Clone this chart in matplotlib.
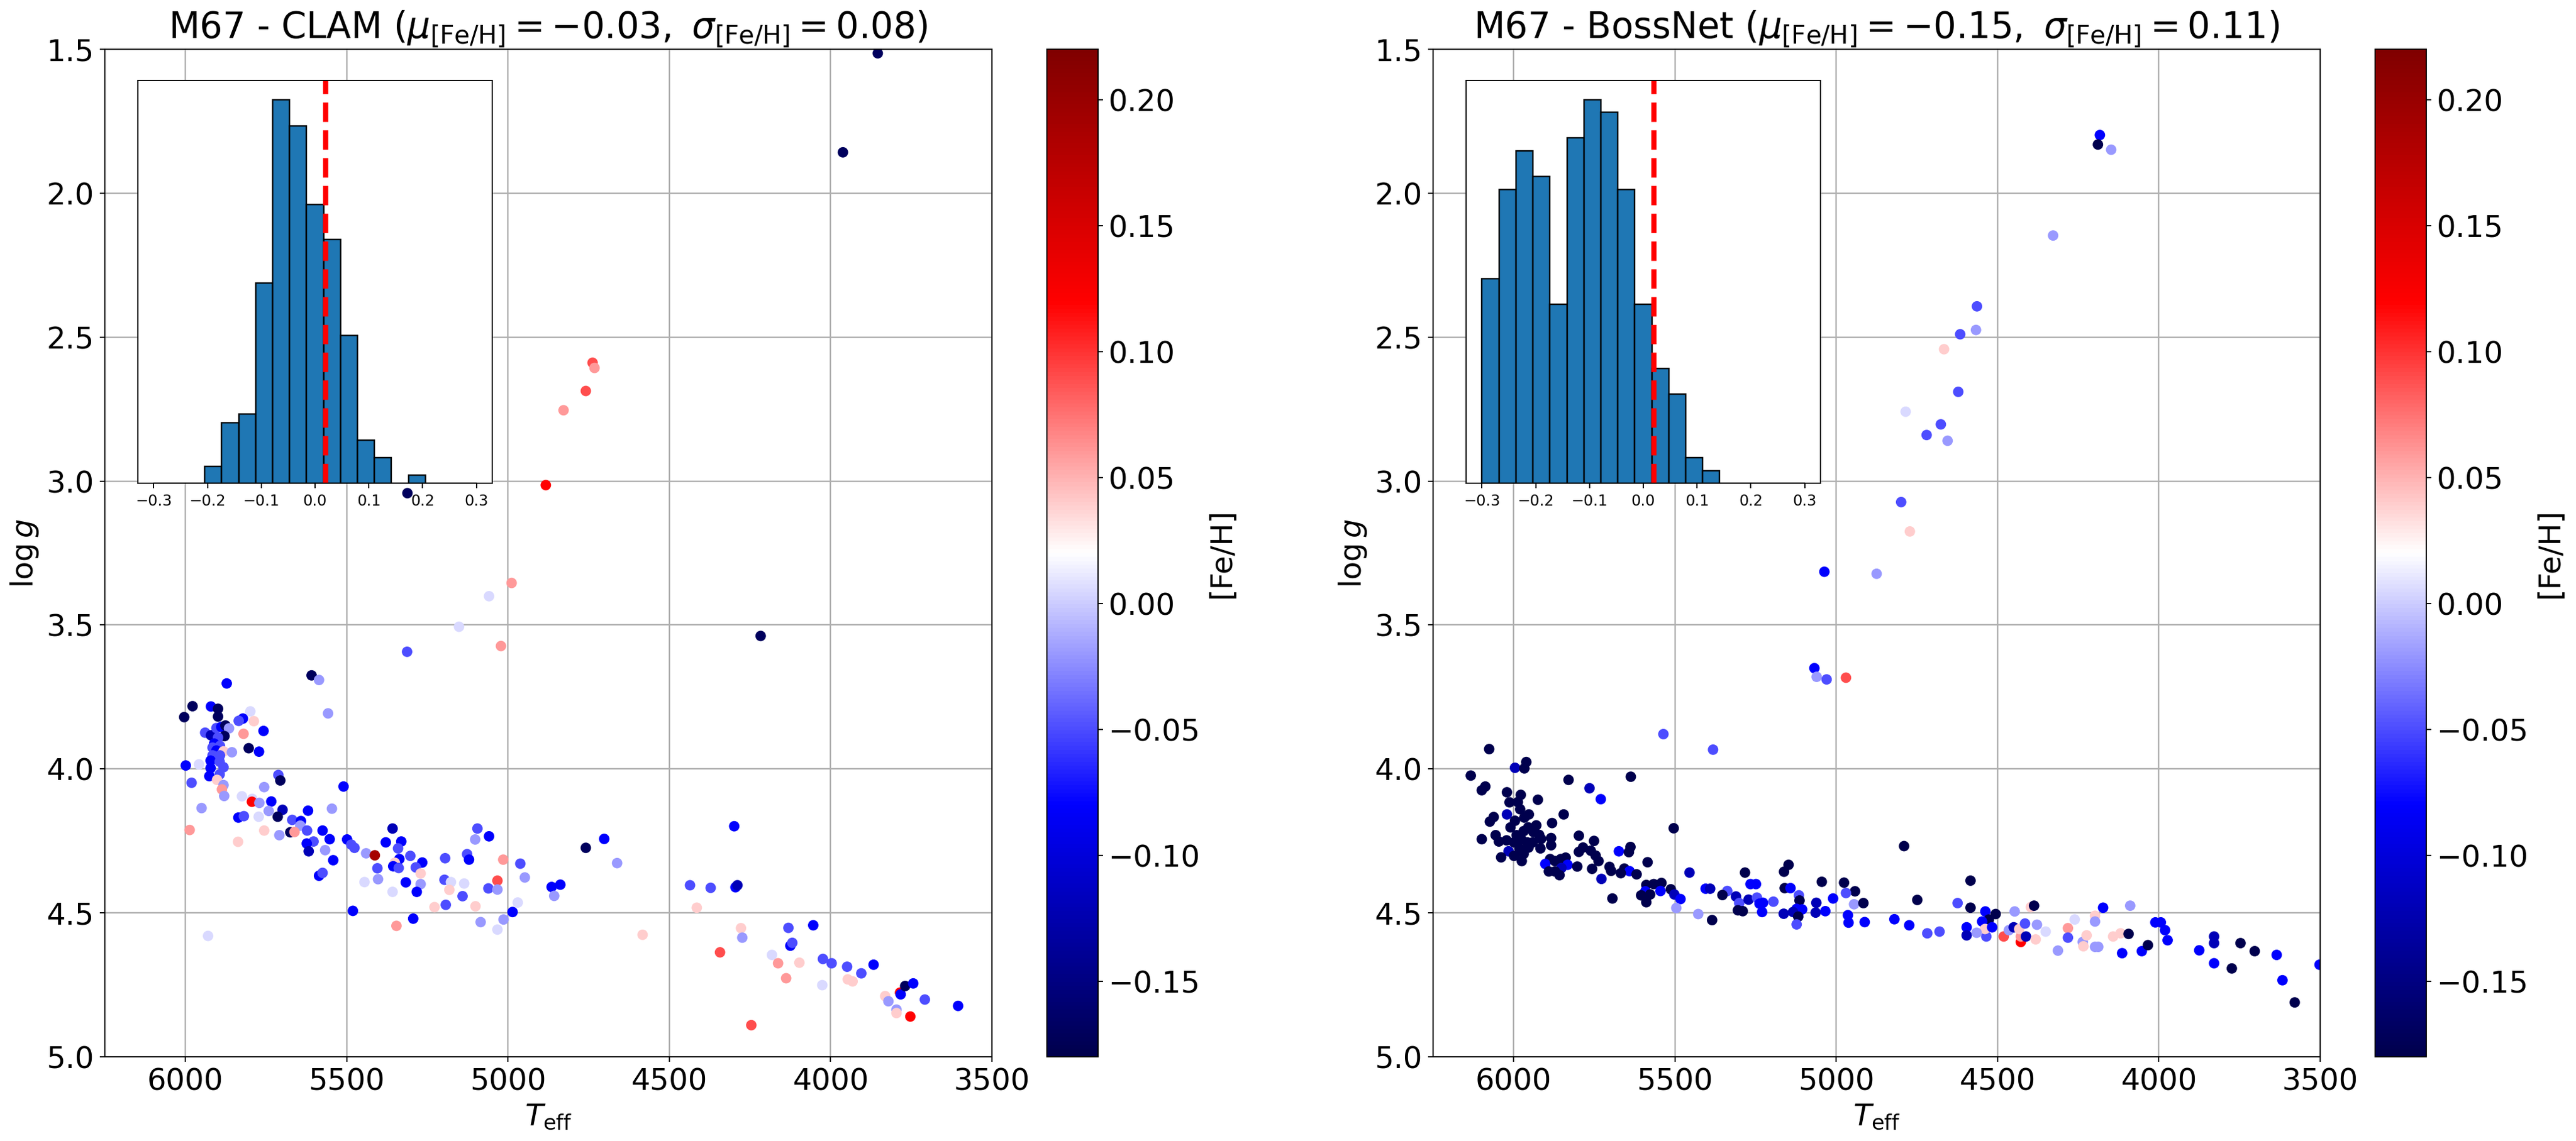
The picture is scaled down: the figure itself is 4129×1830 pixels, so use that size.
import numpy as np
import matplotlib
matplotlib.use('Agg')
import matplotlib.pyplot as plt

# ---------------- data ----------------
# CLAM panel
teff_clam_main = [5059,5152,5022,5313,5609,5586,5872,5558,5978,6004,
    5921,5899,5899,5799,5822,5835,5788,5758,5820,5939,
    5921,5904,5889,5876,5865,5879,5899,5911,5893,5916,
    5904,5882,5856,5804,5772,5916,5893,5922,5894,5882,
    5922,5999,5958,5926,5894,5981,5902,5882,5887,5880,
    5712,5706,5510,5756,5825,5793,5794,5771,5734,5950,
    5546,5699,5620,5742,5836,5819,5773,5714,5669,5642,
    5644,5987,5756,5675,5662,5623,5575,5709,5837,5553,
    5499,5603,5624,5486,5476,5567,5618,5542,5440,5413,
    5358,5379,5331,5341,5303,5337,5351,5356,5339,5266,
    5286,5271,5405,5403,5445,5586,5575,5317,5271,5283,
    5358,5195,5095,5102,5059,5127,5121,5015,4962,4948,
    5033,5197,5177,5136,5182,5061,5033,5141,5228,5193,
    5101,4970,5481,5294,5346,5085,5014,4986,5033,5930]
logg_clam_main = [3.400,3.506,3.573,3.593,3.675,3.691,3.703,3.807,3.782,3.820,
    3.783,3.791,3.818,3.800,3.825,3.833,3.834,3.868,3.878,3.874,
    3.883,3.858,3.854,3.849,3.859,3.886,3.891,3.912,3.920,3.926,
    3.936,3.939,3.942,3.928,3.940,3.953,3.953,3.971,3.975,3.994,
    3.997,3.988,3.984,4.025,4.019,4.048,4.038,4.056,4.071,4.094,
    4.021,4.040,4.061,4.063,4.095,4.104,4.114,4.118,4.113,4.136,
    4.138,4.142,4.145,4.146,4.169,4.164,4.166,4.166,4.177,4.181,
    4.197,4.212,4.214,4.220,4.219,4.214,4.214,4.230,4.253,4.244,
    4.245,4.252,4.259,4.263,4.274,4.282,4.286,4.317,4.293,4.300,
    4.207,4.255,4.252,4.276,4.302,4.313,4.326,4.338,4.344,4.325,
    4.342,4.363,4.345,4.383,4.393,4.371,4.361,4.394,4.400,4.427,
    4.427,4.310,4.207,4.245,4.234,4.296,4.315,4.315,4.329,4.377,
    4.388,4.385,4.393,4.398,4.420,4.415,4.419,4.442,4.480,4.472,
    4.477,4.464,4.493,4.520,4.545,4.532,4.523,4.497,4.558,4.580]
feh_clam_main = [0.005,0.005,0.06,-0.05,-0.17,-0.02,-0.08,-0.02,-0.17,-0.17,
    -0.08,-0.17,-0.17,0.005,-0.08,-0.05,0.04,-0.08,0.06,-0.05,
    -0.12,-0.05,-0.08,-0.17,-0.02,-0.17,-0.05,-0.08,-0.05,-0.05,
    -0.08,0.04,-0.02,-0.17,-0.08,-0.05,-0.05,-0.08,-0.05,-0.05,
    -0.08,-0.08,0.005,-0.08,-0.05,-0.05,0.04,-0.02,0.06,-0.02,
    -0.05,-0.17,-0.08,-0.02,0.005,0.005,0.12,-0.02,-0.08,-0.02,
    -0.02,-0.12,-0.08,-0.02,-0.08,-0.05,0.005,-0.17,-0.05,-0.08,
    -0.02,0.06,0.04,-0.17,0.06,-0.05,-0.08,-0.02,0.04,-0.08,
    -0.08,-0.05,-0.08,-0.05,-0.05,-0.02,-0.12,-0.08,-0.02,0.19,
    -0.12,-0.08,-0.08,-0.05,-0.05,-0.08,0.04,-0.08,-0.05,-0.08,
    -0.05,0.04,-0.05,-0.02,0.005,-0.08,-0.05,-0.08,-0.02,-0.08,
    0.005,-0.05,-0.05,-0.02,-0.08,-0.05,-0.08,0.06,-0.05,-0.02,
    0.09,-0.05,0.005,0.005,0.04,-0.05,-0.02,-0.05,0.04,-0.05,
    0.04,0.005,-0.08,-0.08,0.06,-0.02,-0.02,-0.08,0.005,0.005]

teff_clam_cool = [3854,3962,4738,4732,4759,4828,4883,5312,4989,4217,
    4299,4702,4759,4662,4865,4838,4857,4436,4372,4295,
    4289,4415,4583,4278,4274,4343,4246,4182,4163,4138,
    4097,4131,4125,4119,4054,4024,3997,3949,3947,3932,
    3905,3867,4026,3831,3821,3796,3796,3785,3783,3769,
    3744,3753,3708,3605]
logg_clam_cool = [1.514,1.858,2.589,2.607,2.687,2.754,3.014,3.042,3.354,3.538,
    4.199,4.243,4.274,4.327,4.410,4.402,4.441,4.404,4.413,4.411,
    4.404,4.482,4.576,4.553,4.586,4.637,4.890,4.646,4.675,4.727,
    4.673,4.552,4.614,4.604,4.543,4.660,4.675,4.687,4.731,4.738,
    4.710,4.680,4.751,4.789,4.807,4.836,4.848,4.777,4.783,4.754,
    4.745,4.860,4.801,4.823]
feh_clam_cool = [-0.17,-0.17,0.09,0.06,0.09,0.06,0.12,-0.17,0.06,-0.17,
    -0.08,-0.08,-0.17,-0.02,-0.08,-0.08,-0.02,-0.05,-0.05,-0.08,
    -0.12,0.04,0.04,0.04,-0.02,0.09,0.09,0.005,0.06,0.06,
    0.04,-0.05,-0.08,-0.05,-0.08,-0.05,-0.05,-0.05,0.04,0.04,
    -0.05,-0.08,0.005,0.04,-0.02,-0.02,0.04,0.12,-0.08,-0.17,
    -0.08,0.12,-0.05,-0.08]

# BossNet panel
teff_boss_main = [5068,5061,5030,5536,5382,6076,5996,5961,5967,6133,
    5637,5830,5765,5730,6088,6099,6021,5978,5925,6013,
    5987,5980,6021,5953,5967,5845,6062,6074,5996,5881,
    6010,5930,5955,5969,5939,5921,5991,6099,6056,6046,
    6022,5999,5976,5958,5941,5915,5884,5884,5917,5954,
    5982,6016,5969,5999,6039,5975,5798,5751,5798,5785,
    5761,5746,5737,5887,5902,5872,5854,5839,5833,5852,
    5891,5872,5858,5803,5757,5703,5698,5728,5674,5643,
    5638,5657,5641,5668,5619,5585,5694,5504,5589,5566,
    5542,5592,5605,5577,5589,5545,5513,5502,5483,5496,
    5455,5428,5385,5405,5391,5283,5338,5353,5311,5301,
    5305,5290,5266,5249,5272,5246,5227,5238,5195,5230,
    5148,5162,5160,5142,5116,5114,5123,5106,5134,5118,
    5123,5163,5045,5062,5064,5034]
logg_boss_main = [3.650,3.680,3.689,3.879,3.933,3.931,3.996,3.976,3.998,4.023,
    4.027,4.038,4.067,4.105,4.061,4.074,4.081,4.090,4.107,4.116,
    4.115,4.140,4.158,4.158,4.169,4.158,4.167,4.183,4.180,4.188,
    4.203,4.196,4.203,4.216,4.219,4.229,4.230,4.244,4.230,4.252,
    4.248,4.255,4.245,4.255,4.255,4.243,4.240,4.265,4.276,4.273,
    4.277,4.286,4.295,4.302,4.307,4.320,4.232,4.250,4.288,4.273,
    4.284,4.301,4.320,4.313,4.330,4.320,4.313,4.308,4.333,4.344,
    4.356,4.356,4.369,4.339,4.347,4.340,4.354,4.382,4.286,4.289,
    4.271,4.346,4.355,4.362,4.366,4.324,4.450,4.206,4.403,4.400,
    4.396,4.425,4.439,4.436,4.463,4.424,4.418,4.436,4.452,4.483,
    4.360,4.504,4.525,4.416,4.416,4.360,4.424,4.438,4.443,4.466,
    4.491,4.494,4.400,4.400,4.454,4.447,4.465,4.468,4.461,4.497,
    4.333,4.357,4.414,4.414,4.439,4.457,4.486,4.488,4.497,4.513,
    4.540,4.503,4.392,4.465,4.499,4.494]
feh_boss_main = [-0.08,-0.02,-0.05,-0.05,-0.05,-0.22,-0.12,-0.22,-0.22,-0.22,
    -0.22,-0.22,-0.12,-0.08,-0.22,-0.22,-0.22,-0.22,-0.22,-0.22,
    -0.22,-0.22,-0.12,-0.22,-0.22,-0.22,-0.22,-0.22,-0.22,-0.22,
    -0.22,-0.22,-0.22,-0.22,-0.22,-0.22,-0.22,-0.22,-0.22,-0.22,
    -0.22,-0.22,-0.22,-0.22,-0.22,-0.22,-0.22,-0.22,-0.22,-0.22,
    -0.22,-0.12,-0.22,-0.22,-0.22,-0.22,-0.22,-0.22,-0.22,-0.22,
    -0.22,-0.22,-0.22,-0.22,-0.08,-0.22,-0.22,-0.22,-0.08,-0.12,
    -0.22,-0.22,-0.22,-0.22,-0.22,-0.22,-0.22,-0.12,-0.08,-0.22,
    -0.22,-0.22,-0.08,-0.22,-0.22,-0.22,-0.22,-0.22,-0.22,-0.22,
    -0.22,-0.08,-0.22,-0.22,-0.22,-0.08,-0.22,-0.12,-0.08,-0.02,
    -0.12,-0.02,-0.22,-0.08,-0.12,-0.22,-0.05,-0.22,-0.12,-0.05,
    -0.22,-0.22,-0.08,-0.08,-0.12,-0.05,-0.08,-0.08,-0.05,-0.08,
    -0.22,-0.22,-0.22,-0.08,-0.05,-0.22,-0.08,-0.08,-0.12,-0.22,
    -0.05,-0.12,-0.22,-0.12,-0.12,-0.08]

teff_boss_giants = [4183,4189,4148,4328,4564,4567,4616,4666,4622,4785,
    4676,4720,4655,4799,4772]
logg_boss_giants = [1.798,1.831,1.849,2.147,2.393,2.475,2.490,2.542,2.690,2.759,
    2.803,2.840,2.860,3.073,3.175]
feh_boss_giants = [-0.08,-0.22,-0.02,-0.02,-0.05,-0.02,-0.05,0.04,-0.05,0.005,
    -0.05,-0.05,-0.02,-0.05,0.04]

teff_boss_cool = [5037,4875,4970,4790,4584,4624,4584,4538,4506,4447,
    4397,4387,4527,4548,4596,4596,4535,4539,4517,4565,
    4481,4465,4450,4428,4428,4433,4412,4415,4378,4382,
    4351,4718,4680,4774,4820,4749,4313,4282,4282,4236,
    4234,4224,4261,4198,4198,4173,4198,4188,4142,4119,
    4114,4094,4089,4053,4034,4011,3994,3981,3973,3875,
    3829,3829,3829,3774,3747,3703,3635,3617,3579,3502,
    4976,4942,4970,5010,4964,4962,4945,4916,4912]
logg_boss_cool = [3.315,3.322,3.683,4.268,4.388,4.466,4.482,4.495,4.504,4.495,
    4.480,4.475,4.523,4.530,4.550,4.578,4.582,4.556,4.550,4.569,
    4.582,4.560,4.550,4.601,4.582,4.556,4.582,4.537,4.541,4.592,
    4.565,4.571,4.565,4.543,4.522,4.455,4.631,4.553,4.586,4.601,
    4.616,4.578,4.523,4.510,4.530,4.482,4.618,4.618,4.582,4.571,
    4.640,4.573,4.475,4.633,4.612,4.533,4.533,4.560,4.595,4.630,
    4.582,4.605,4.675,4.693,4.605,4.633,4.646,4.734,4.811,4.680,
    4.395,4.425,4.431,4.450,4.508,4.534,4.470,4.466,4.532]
feh_boss_cool = [-0.08,-0.02,0.09,-0.22,-0.22,-0.05,-0.22,-0.08,-0.22,-0.02,
    0.04,-0.22,-0.22,-0.08,-0.08,-0.12,-0.05,0.04,-0.08,-0.02,
    0.09,-0.02,-0.12,0.12,0.06,0.04,-0.12,-0.05,-0.02,0.04,
    0.005,-0.05,-0.05,-0.08,-0.08,-0.22,-0.02,0.06,-0.05,-0.02,
    0.04,0.04,0.005,0.04,-0.02,-0.08,-0.02,-0.02,0.04,0.04,
    -0.08,-0.22,-0.02,-0.08,-0.22,-0.08,-0.08,-0.08,-0.08,-0.08,
    -0.12,-0.12,-0.08,-0.22,-0.22,-0.22,-0.08,-0.08,-0.22,-0.08,
    -0.22,-0.22,-0.05,-0.08,-0.08,-0.08,-0.02,-0.22,-0.08]

# histograms of [Fe/H] (counts per bin, 19 bins from -0.3 to 0.3)
hist_edges = np.linspace(-0.3, 0.3, 20)
hist_clam = [0, 0, 0, 2, 7, 8, 23, 44, 41, 32, 28, 17, 5, 3, 0, 1, 0, 0, 0]
hist_boss = [16, 23, 26, 24, 14, 27, 30, 29, 23, 14, 9, 7, 2, 1, 0, 0, 0, 0, 0]
feh_ref = 0.02

titles = [r'M67 - CLAM ($\mu_{\rm [Fe/H]} = -0.03,\ \sigma_{\rm [Fe/H]} = 0.08$)',
          r'M67 - BossNet ($\mu_{\rm [Fe/H]} = -0.15,\ \sigma_{\rm [Fe/H]} = 0.11$)']

panels = [
    (teff_clam_main + teff_clam_cool, logg_clam_main + logg_clam_cool,
     feh_clam_main + feh_clam_cool, hist_clam),
    (teff_boss_main + teff_boss_giants + teff_boss_cool,
     logg_boss_main + logg_boss_giants + logg_boss_cool,
     feh_boss_main + feh_boss_giants + feh_boss_cool, hist_boss),
]

# ---------------- figure ----------------
DPI = 173
fig = plt.figure(figsize=(4129 / DPI, 1830 / DPI), dpi=DPI)

ax_lefts = [168 / 4129, 2297 / 4129]
cb_lefts = [1678 / 4129, 3807 / 4129]
bottom = 1 - 1695 / 1830
height = 1616 / 1830
width = 1422 / 4129
cb_width = 82 / 4129

for i, (teff, logg, feh, counts) in enumerate(panels):
    ax = fig.add_axes([ax_lefts[i], bottom, width, height])
    sc = ax.scatter(teff, logg, c=feh, cmap='seismic', vmin=-0.18, vmax=0.22, s=36)
    ax.set_xlim(6250, 3500)
    ax.set_ylim(5.0, 1.5)
    ax.set_xticks([6000, 5500, 5000, 4500, 4000, 3500])
    ax.set_yticks([1.5, 2.0, 2.5, 3.0, 3.5, 4.0, 4.5, 5.0])
    ax.grid(True, color='#b0b0b0', lw=1.0)
    ax.set_axisbelow(True)
    ax.tick_params(labelsize=20)
    ax.set_xlabel(r'$T_{\rm eff}$', fontsize=20)
    ax.set_ylabel(r'$\log g$', fontsize=20)
    ax.set_title(titles[i], fontsize=24)

    cax = fig.add_axes([cb_lefts[i], bottom, cb_width, height])
    cb = fig.colorbar(sc, cax=cax)
    cb.ax.tick_params(labelsize=20)
    cb.set_label('[Fe/H]', fontsize=20)

    ins = ax.inset_axes([0.037, 0.569, 0.40, 0.40])
    ins.bar(hist_edges[:-1], counts, width=np.diff(hist_edges), align='edge',
            color='#1f77b4', edgecolor='black', linewidth=1.0)
    ins.axvline(feh_ref, color='red', ls='--', lw=3.5)
    ins.set_yticks([])
    ins.set_xticks([-0.3, -0.2, -0.1, 0.0, 0.1, 0.2, 0.3])
    ins.tick_params(labelsize=10)

fig.savefig('out.png', dpi=DPI)
